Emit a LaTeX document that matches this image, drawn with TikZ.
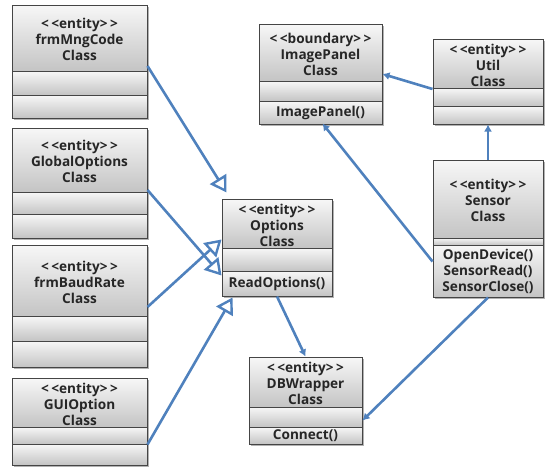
\documentclass[tikz,border=0pt]{standalone}
\usepackage{fontspec}
\setmainfont{Open Sans}
\usetikzlibrary{arrows.meta,calc}
\definecolor{boxtop}{HTML}{F7F7F7}
\definecolor{boxbot}{HTML}{C4C4C4}
\definecolor{boxline}{HTML}{454545}
\definecolor{conn}{HTML}{4F81BD}
\tikzset{
  frame/.style={draw=boxline,line width=1pt,inner sep=0pt,rectangle},
  part/.style={top color=boxtop,bottom color=boxbot,draw=boxline,line width=1pt},
  txt/.style={font=\bfseries\fontsize{13.6}{16}\selectfont,align=center,inner sep=0pt,text=black!85},
  gen/.style={draw=conn,line width=2.6pt,-{Triangle[open,length=16pt,width=19pt,line width=2.4pt]}},
  dep/.style={draw=conn,line width=2.6pt,-{Latex[length=7pt,width=8pt]}},
}
% name, x1, x2, ytop, yhead, ydiv, ybot, header, methods
\newcommand\umlbox[9]{%
  \fill[black!30] (#2+2,#4+2) rectangle (#3+2,#7+2);
  \shade[part] (#2,#4) rectangle (#3,#5);
  \shade[part] (#2,#5) rectangle (#3,#6);
  \shade[part] (#2,#6) rectangle (#3,#7);
  \node[frame,minimum width={(#3-#2)*1pt},minimum height={(#7-#4)*1pt}] (#1) at ({(#2+#3)/2},{(#4+#7)/2}) {};
  \node[txt] (#1-h) at ({(#2+#3)/2},{(#4+#5)/2+1.5}) {#8};
  \node[txt] (#1-m) at ({(#2+#3)/2},{(#6+#7)/2}) {#9};
}
\newcommand\stereo[1]{<\kern2.5pt<#1>\kern2.5pt>}
\begin{document}
\begin{tikzpicture}[x=1pt,y=-1pt]
\useasboundingbox (0,0) rectangle (548,466);
\umlbox{frm}{12}{147}{5}{71}{95}{118}{\stereo{entity}\\frmMngCode\\Class}{}
\umlbox{glob}{12}{147}{128}{192}{214}{238}{\stereo{entity}\\GlobalOptions\\Class}{}
\umlbox{baud}{12}{147}{245}{316}{341}{367}{\stereo{entity}\\frmBaudRate\\Class}{}
\umlbox{gui}{12}{147}{378}{427}{444}{465}{\stereo{entity}\\GUIOption\\Class}{}
\umlbox{img}{259}{382}{24}{81}{101}{124}{\stereo{boundary}\\ImagePanel\\Class}{ImagePanel()}
\umlbox{util}{433}{543}{39}{88}{106}{124}{\stereo{entity}\\Util\\Class}{}
\umlbox{sensor}{433}{543}{160}{238}{245}{297}{\stereo{entity}\\Sensor\\Class}{OpenDevice()\\SensorRead()\\SensorClose()}
\umlbox{opt}{222}{332}{199}{248}{271}{296}{\stereo{entity}\\Options\\Class}{ReadOptions()}
\umlbox{db}{249}{362}{357}{407}{427}{444}{\stereo{entity}\\DBWrapper\\Class}{Connect()}
% generalisations
\draw[gen] ([yshift=-4.5]frm.east) -- ([shift={(5,-6)}]opt.north west);
\draw[gen] ([yshift=-7]glob.east) -- ([yshift=-28]opt.west);
\draw[gen] ([yshift=-1]baud.east) -- ([yshift=8]opt.west);
\draw[gen] ([yshift=-23]gui.east) -- ([shift={(11,1)}]opt.south west);
% dependencies
\draw[dep] (opt.south) -- (db.north);
\draw[dep] (sensor.south) -- ([yshift=-20]db.east);
\draw[dep] ([yshift=-33]sensor.west) -- ([xshift=2,yshift=1]img.south);
\draw[dep] (sensor.north) -- (util.south);
\draw[dep] ([yshift=-7.5]util.west) -- (img.east);
\end{tikzpicture}
\end{document}
